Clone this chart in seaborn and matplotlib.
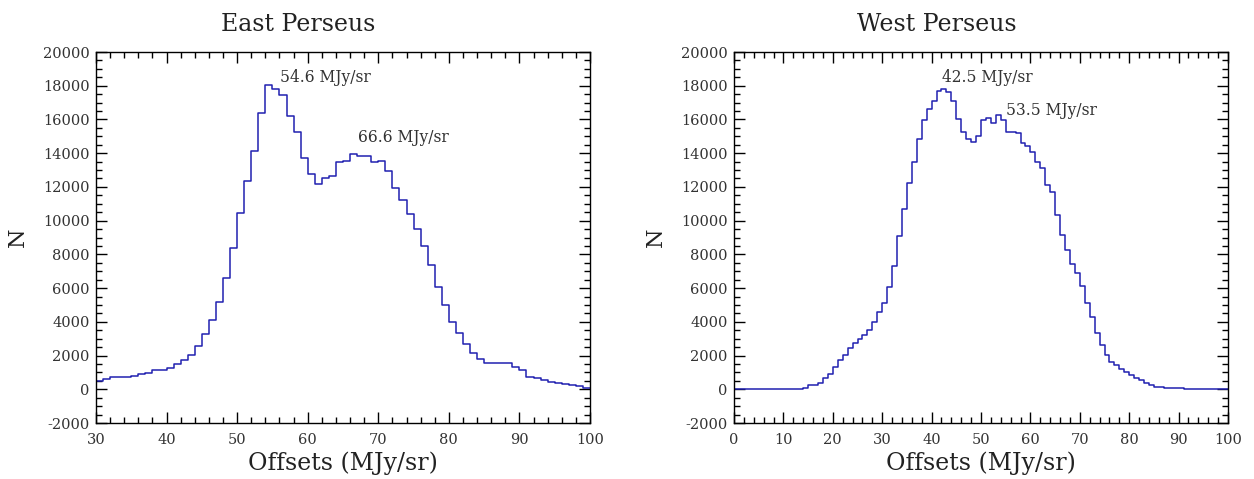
import numpy as np
import pandas as pd
import matplotlib
matplotlib.use('Agg')
import matplotlib.pyplot as plt
import seaborn as sns
from matplotlib.ticker import MultipleLocator

# East Perseus histogram: 1 MJy/sr bins from 30 to 100
east_start = 30
east_counts = [516, 595, 714, 714, 714, 794, 893, 992, 1150, 1150,
               1250, 1488, 1746, 2024, 2580, 3274, 4087, 5178, 6627, 8353,
               10456, 12360, 14126, 16368, 18015, 17777, 17459, 16229, 15277, 13709,
               12737, 12162, 12499, 12618, 13452, 13551, 13948, 13809, 13809, 13452,
               13531, 12956, 11964, 11210, 10416, 9523, 8492, 7341, 6051, 4980,
               3968, 3333, 2678, 2143, 1786, 1587, 1548, 1548, 1548, 1309,
               1151, 754, 655, 556, 456, 397, 317, 258, 180, 80]

# West Perseus histogram: 1 MJy/sr bins from 0 to 100
west_start = 0
west_counts = [0, 0, 0, 0, 0, 0, 0, 0, 0, 0,
               0, 0, 40, 40, 100, 238, 238, 377, 695, 933,
               1331, 1728, 2026, 2423, 2721, 2979, 3217, 3515, 4010, 4600,
               5100, 6037, 7328, 9116, 10665, 12214, 13485, 14835, 15987, 16623,
               17080, 17675, 17814, 17616, 17119, 16027, 15272, 14835, 14637, 15034,
               15987, 16067, 15789, 16285, 15987, 15232, 15232, 15173, 14578, 14399,
               14041, 13485, 13147, 12115, 11717, 10307, 9175, 8242, 7448, 6891,
               6097, 5104, 4270, 3356, 2622, 2026, 1629, 1430, 1231, 1033,
               834, 695, 536, 397, 238, 139, 139, 80, 80, 80,
               80, 0, 0, 0, 0, 0, 0, 0, 0, 0]

titles = ['East Perseus', 'West Perseus']
peak_labels = [['54.6 MJy/sr', '66.6 MJy/sr'], ['42.5 MJy/sr', '53.5 MJy/sr']]
peak_pos = [[(56.1, 18000), (67.1, 14400)], [(42.1, 18000), (55.1, 16000)]]
xlims = [(30, 100), (0, 100)]

sns.set_style('ticks')
plt.rcParams['font.family'] = ['DejaVu Serif']
plt.rcParams['axes.unicode_minus'] = False

fig = plt.figure(figsize=(12.54, 4.79), dpi=100)
ax1 = fig.add_axes([96 / 1254, 1 - 423 / 479, 494 / 1254, 371 / 479])
ax2 = fig.add_axes([734 / 1254, 1 - 423 / 479, 494 / 1254, 371 / 479])

line_color = '#2020b0'
for ax, start, counts, title, labs, pos, xl in zip(
        [ax1, ax2], [east_start, west_start], [east_counts, west_counts],
        titles, peak_labels, peak_pos, xlims):
    end = start + len(counts)
    df = pd.DataFrame({'offset': np.arange(start, end) + 0.5, 'n': counts})
    sns.histplot(data=df, x='offset', weights='n', binwidth=1,
                 binrange=(start, end), element='step', fill=False,
                 color=line_color, linewidth=1.1, ax=ax)
    ax.set_xlim(*xl)
    ax.set_ylim(-2000, 20000)
    ax.xaxis.set_major_locator(MultipleLocator(10))
    ax.xaxis.set_minor_locator(MultipleLocator(2))
    ax.yaxis.set_major_locator(MultipleLocator(2000))
    ax.yaxis.set_minor_locator(MultipleLocator(500))
    ax.tick_params(which='both', direction='in', top=True, right=True,
                   labelsize=10.5, colors='black', labelcolor='#333333', width=1)
    ax.tick_params(which='major', length=8)
    ax.tick_params(which='minor', length=4.5)
    ax.tick_params(axis='x', which='major', pad=7.5)
    ax.tick_params(axis='y', which='major', pad=4.5)
    for sp in ax.spines.values():
        sp.set_linewidth(1)
        sp.set_color('black')
    ax.set_title(title, fontsize=17, pad=15, x=0.41, color='#222222')
    ax.set_xlabel('Offsets (MJy/sr)', fontsize=17, labelpad=3, color='#222222')
    ax.set_ylabel('N', fontsize=16, labelpad=10, color='#222222')
    for t, (x, y) in zip(labs, pos):
        ax.text(x, y, t, fontsize=11.2, ha='left', va='bottom', color='#333333')

fig.savefig('out.png', dpi=100)
